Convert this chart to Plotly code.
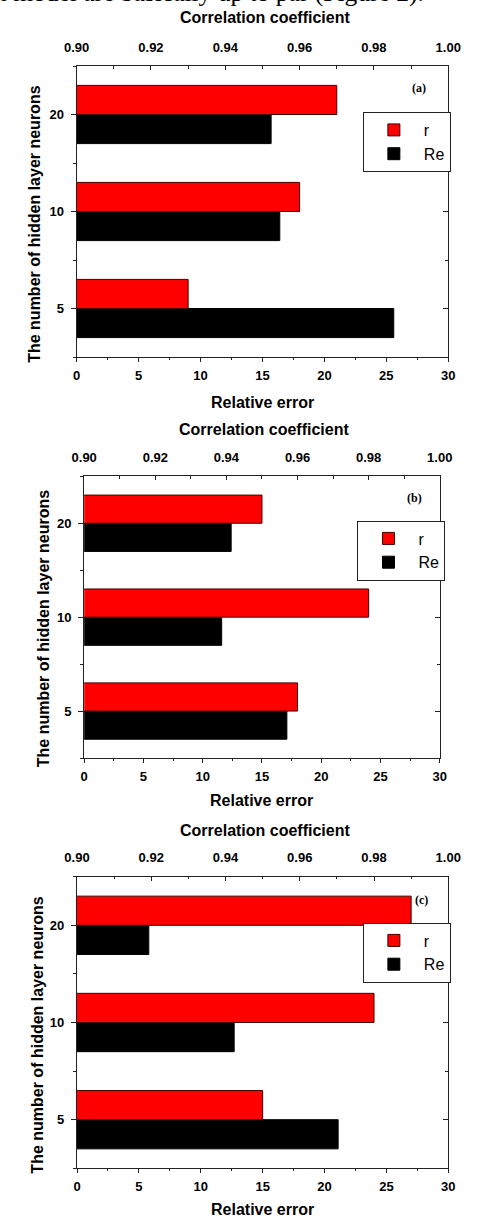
import plotly.graph_objects as go

# ---------------- data ----------------
neurons = ["5", "10", "20"]
panels = ["(a)", "(b)", "(c)"]

# correlation coefficient r (top axis)
r_a = [0.930, 0.960, 0.970]
r_b = [0.960, 0.980, 0.950]
r_c = [0.950, 0.980, 0.990]

# relative error Re (bottom axis)
re_a = [25.6, 16.4, 15.7]
re_b = [17.1, 11.6, 12.4]
re_c = [21.1, 12.7, 5.8]

r_series = [r_a, r_b, r_c]
re_series = [re_a, re_b, re_c]

W, H = 478, 1219
FONT = "Liberation Sans"


def fx(p):
    return p / W


def fy(p):
    return 1 - p / H


# pixel boxes of the three plot areas: (left, right, top, bottom)
boxes = [(67.3, 460.3, 66, 357), (75.3, 451.3, 476.3, 758), (67.7, 460.3, 876.7, 1168.3)]
legend_pos = [(370, 112), (364.3, 520.5), (370, 922.5)]
label_pos = [(429, 88), (424.5, 498), (431.5, 900)]
top_title_pos = [(266, 17), (265, 430), (266, 830)]
bot_title_pos = [(264, 402), (263, 800), (264, 1209)]
ytitle_pos = [(22, 224), (32, 629), (25, 1035)]

ypos = list(range(len(neurons)))

fig = go.Figure()
layout = dict(
    width=W, height=H, autosize=False,
    margin=dict(l=0, r=0, t=0, b=0),
    paper_bgcolor="white", plot_bgcolor="white",
    barmode="overlay", showlegend=True,
)
annotations = []

tickfont = dict(family=FONT, size=13, color="black", weight="bold")
titlefont = dict(family=FONT, size=16, color="black", weight="bold")

for i in range(3):
    L, R, T, B = boxes[i]
    xb = "x" if i == 0 else f"x{2*i+1}"
    xt = f"x{2*i+2}"
    yl = "y" if i == 0 else f"y{2*i+1}"
    yr = f"y{2*i+2}"
    leg = "legend" if i == 0 else f"legend{i+1}"

    fig.add_trace(go.Bar(
        y=ypos, x=r_series[i], orientation="h", name="r",
        xaxis=xt, yaxis=yr, offset=0, width=0.3,
        marker=dict(color="#FF0000", line=dict(color="#400000", width=1)),
        legend=leg,
    ))
    fig.add_trace(go.Bar(
        y=ypos, x=re_series[i], orientation="h", name="Re",
        xaxis=xb, yaxis=yl, offset=-0.3, width=0.3,
        marker=dict(color="#000000", line=dict(color="#000000", width=1)),
        legend=leg,
    ))

    xbk = "xaxis" if i == 0 else f"xaxis{2*i+1}"
    xtk = f"xaxis{2*i+2}"
    ylk = "yaxis" if i == 0 else f"yaxis{2*i+1}"
    yrk = f"yaxis{2*i+2}"
    dom_x = [fx(L), fx(R)]
    dom_y = [fy(B), fy(T)]

    layout[xbk] = dict(
        domain=dom_x, anchor=yl, range=[0, 30], dtick=5, tick0=0,
        showline=True, linecolor="#222", linewidth=1.2,
        ticks="outside", ticklen=4, tickwidth=1.2, tickcolor="#222",
        minor=dict(ticks="outside", dtick=2.5, tick0=0, ticklen=2, tickcolor="#222"),
        showgrid=False, zeroline=False, tickfont=tickfont, ticklabelstandoff=2,
    )
    layout[xtk] = dict(
        overlaying=xb, anchor=yr, side="top", range=[0.9, 1.0], dtick=0.02, tick0=0.9,
        tickformat=".2f",
        showline=True, linecolor="#222", linewidth=1.2,
        ticks="inside", ticklen=4, tickwidth=1.2, tickcolor="#222",
        minor=dict(ticks="inside", dtick=0.01, tick0=0.9, ticklen=2.5, tickcolor="#222"),
        showgrid=False, zeroline=False, tickfont=tickfont, ticklabelstandoff=8,
    )
    layout[ylk] = dict(
        domain=dom_y, anchor=xb, range=[-0.5, 2.5],
        tickmode="array", tickvals=ypos, ticktext=neurons,
        showline=True, linecolor="#222", linewidth=1.2,
        ticks="outside", ticklen=5, tickwidth=1.2, tickcolor="#222",
        minor=dict(ticks="outside", dtick=1, tick0=0.5, ticklen=3, tickcolor="#222"),
        showgrid=False, zeroline=False, tickfont=tickfont, ticklabelstandoff=4,
    )
    layout[yrk] = dict(
        overlaying=yl, anchor=xt, side="right", range=[-0.5, 2.5],
        tickmode="array", tickvals=ypos, ticktext=neurons, showticklabels=False,
        showline=True, linecolor="#222", linewidth=1.2,
        ticks="inside", ticklen=5, tickwidth=1.2, tickcolor="#222",
        minor=dict(ticks="inside", dtick=1, tick0=0.5, ticklen=3, tickcolor="#222"),
        showgrid=False, zeroline=False,
    )
    lx, ly = legend_pos[i]
    layout[leg] = dict(
        x=fx(lx), y=fy(ly), xanchor="left", yanchor="top",
        bgcolor="white", bordercolor="#222", borderwidth=1,
        font=dict(family=FONT, size=16, color="black"),
        traceorder="normal", itemwidth=50, tracegroupgap=0,
    )

    # titles and panel labels
    tx, ty = top_title_pos[i]
    annotations.append(dict(text="Correlation coefficient", x=fx(tx), y=fy(ty),
                            xref="paper", yref="paper", showarrow=False,
                            xanchor="center", yanchor="middle", font=titlefont))
    bx, by = bot_title_pos[i]
    annotations.append(dict(text="Relative error", x=fx(bx), y=fy(by),
                            xref="paper", yref="paper", showarrow=False,
                            xanchor="center", yanchor="middle", font=titlefont))
    vx, vy = ytitle_pos[i]
    annotations.append(dict(text="The number of hidden layer neurons", x=fx(vx), y=fy(vy),
                            xref="paper", yref="paper", showarrow=False, textangle=-90,
                            xanchor="center", yanchor="middle", font=titlefont))
    px_, py_ = label_pos[i]
    annotations.append(dict(text=f"<b>{panels[i]}</b>", x=fx(px_), y=fy(py_),
                            xref="paper", yref="paper", showarrow=False,
                            xanchor="center", yanchor="middle",
                            font=dict(family="Liberation Serif", size=12, color="black")))

# cut-off line of document text at the very top
annotations.append(dict(text="n model are basically up to par (Figure 2).",
                        x=fx(437), y=fy(9), xref="paper", yref="paper", showarrow=False,
                        xanchor="right", yanchor="bottom",
                        font=dict(family="Liberation Serif", size=25.5, color="black")))

layout["annotations"] = annotations
fig.update_layout(**layout)
fig.write_html("out.html")
